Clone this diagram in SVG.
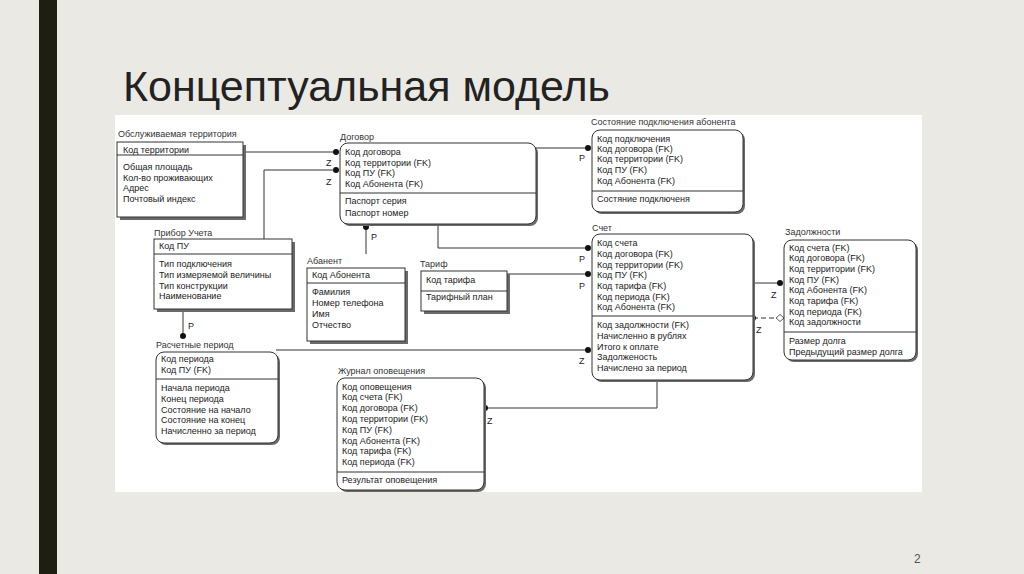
<svg xmlns="http://www.w3.org/2000/svg" width="1024" height="574" viewBox="0 0 1024 574">
<style>
.bg{fill:#ebe9e3}
.panel{fill:#ffffff}
.box{fill:#ffffff;stroke:#333;stroke-width:1}
.sh{fill:#6a6a6a}
.sep{stroke:#333;stroke-width:1}
.ttl{font-family:"Liberation Sans",Arial,sans-serif;font-size:9px;fill:#333}
.a{font-family:"Liberation Sans",Arial,sans-serif;font-size:9px;fill:#1a1a1a}
.lbl{font-family:"Liberation Sans",Arial,sans-serif;font-size:9px;fill:#222}
.ln{fill:none;stroke:#333;stroke-width:1}
.dash{fill:none;stroke:#333;stroke-width:1;stroke-dasharray:5,3}
.dot{fill:#111}
</style>
<rect class="bg" x="0" y="0" width="1024" height="574"/>
<rect x="39" y="0" width="18" height="574" fill="#1e1e12"/>
<text x="123" y="101" font-family="'Liberation Sans',Arial,sans-serif" font-size="42" fill="#222" textLength="487" lengthAdjust="spacingAndGlyphs">Концептуальная модель</text>
<rect class="panel" x="115" y="115" width="807" height="377"/>
<text x="914" y="563" font-family="'Liberation Sans',Arial,sans-serif" font-size="12" fill="#555">2</text>

<g id="connectors">
<polyline class="ln" points="243,152 336,152"/><circle class="dot" cx="336" cy="152" r="3"/>
<text class="lbl" x="326" y="166">Z</text>
<polyline class="ln" points="264,239 264,170 336,170"/><circle class="dot" cx="336" cy="170" r="3"/>
<text class="lbl" x="326" y="185">Z</text>
<polyline class="ln" points="536,148 588,148"/><circle class="dot" cx="588" cy="148" r="3"/>
<text class="lbl" x="579" y="161">P</text>
<polyline class="ln" points="366,227 366,254"/><circle class="dot" cx="366" cy="227" r="3"/>
<text class="lbl" x="371" y="240">P</text>
<polyline class="ln" points="438,224 438,248 588,248"/><circle class="dot" cx="588" cy="248" r="3"/>
<text class="lbl" x="579" y="262">P</text>
<polyline class="ln" points="507,274 588,274"/><circle class="dot" cx="588" cy="274" r="3"/>
<text class="lbl" x="579" y="289">P</text>
<polyline class="ln" points="183,309 183,336"/><circle class="dot" cx="183" cy="336" r="3"/>
<text class="lbl" x="188" y="329">P</text>
<polyline class="ln" points="276,350 588,350"/><circle class="dot" cx="588" cy="350" r="3"/>
<text class="lbl" x="579" y="364">Z</text>
<polyline class="ln" points="657,380 657,408 485,408"/><circle class="dot" cx="485" cy="408" r="3"/>
<text class="lbl" x="487" y="424">Z</text>
<polyline class="ln" points="753,283 780,283"/><circle class="dot" cx="780" cy="283" r="3"/>
<text class="lbl" x="771" y="298">Z</text>
<polyline class="dash" points="753,318 776,318"/><circle class="dot" cx="753" cy="318" r="3"/>
<polygon points="776,318 780,314.5 784,318 780,321.5" fill="#fff" stroke="#333" stroke-width="0.8"/>
<text class="lbl" x="756" y="333">Z</text>
</g>

<g id="territory">
<rect class="sh" x="120" y="145" width="126" height="75"/>
<rect class="box" x="117" y="142" width="126" height="75"/>
<line class="sep" x1="117" y1="155" x2="243" y2="155"/>
<text class="ttl" x="118" y="137">Обслуживаемая территория</text>
<text class="a" x="123" y="153">Код территории</text>
<text class="a" x="123" y="170">Общая площадь</text>
<text class="a" x="123" y="181">Кол-во проживающих</text>
<text class="a" x="123" y="191">Адрес</text>
<text class="a" x="123" y="202">Почтовый индекс</text>
</g>

<g id="dogovor">
<rect class="sh" x="342" y="145" width="196" height="81" rx="8"/>
<rect class="box" x="340" y="143" width="196" height="81" rx="8"/>
<line class="sep" x1="340" y1="193" x2="536" y2="193"/>
<text class="ttl" x="340" y="140">Договор</text>
<text class="a" x="345" y="155">Код договора</text>
<text class="a" x="345" y="166">Код территории (FK)</text>
<text class="a" x="345" y="176">Код ПУ (FK)</text>
<text class="a" x="345" y="187">Код Абонента (FK)</text>
<text class="a" x="345" y="204">Паспорт серия</text>
<text class="a" x="345" y="216">Паспорт номер</text>
</g>

<g id="sostoyanie">
<rect class="sh" x="594" y="132" width="151" height="82" rx="8"/>
<rect class="box" x="592" y="130" width="151" height="82" rx="8"/>
<line class="sep" x1="592" y1="191" x2="743" y2="191"/>
<text class="ttl" x="591" y="125">Состояние подключения абонента</text>
<text class="a" x="597" y="142">Код подключения</text>
<text class="a" x="597" y="152">Код договора (FK)</text>
<text class="a" x="597" y="162">Код территории (FK)</text>
<text class="a" x="597" y="173">Код ПУ (FK)</text>
<text class="a" x="597" y="184">Код Абонента (FK)</text>
<text class="a" x="597" y="202">Состяние подключеня</text>
</g>

<g id="pribor">
<rect class="sh" x="157" y="242" width="138" height="70"/>
<rect class="box" x="154" y="239" width="138" height="70"/>
<line class="sep" x1="154" y1="254" x2="292" y2="254"/>
<text class="ttl" x="154" y="236">Прибор Учета</text>
<text class="a" x="159" y="249">Код ПУ</text>
<text class="a" x="159" y="267">Тип подключения</text>
<text class="a" x="159" y="278">Тип измеряемой величины</text>
<text class="a" x="159" y="289">Тип конструкции</text>
<text class="a" x="159" y="299">Наименование</text>
</g>

<g id="abonent">
<rect class="sh" x="310" y="271" width="98" height="73"/>
<rect class="box" x="307" y="268" width="98" height="73"/>
<line class="sep" x1="307" y1="283" x2="405" y2="283"/>
<text class="ttl" x="307" y="264">Абанент</text>
<text class="a" x="312" y="278">Код Абонента</text>
<text class="a" x="312" y="295">Фамилия</text>
<text class="a" x="312" y="306">Номер телефона</text>
<text class="a" x="312" y="317">Имя</text>
<text class="a" x="312" y="328">Отчество</text>
</g>

<g id="tarif">
<rect class="sh" x="424" y="274" width="86" height="40"/>
<rect class="box" x="421" y="271" width="86" height="40"/>
<line class="sep" x1="421" y1="291" x2="507" y2="291"/>
<text class="ttl" x="420" y="267">Тариф</text>
<text class="a" x="426" y="283">Код тарифа</text>
<text class="a" x="426" y="300">Тарифный план</text>
</g>

<g id="schet">
<rect class="sh" x="594" y="236" width="161" height="146" rx="8"/>
<rect class="box" x="592" y="234" width="161" height="146" rx="8"/>
<line class="sep" x1="592" y1="316" x2="753" y2="316"/>
<text class="ttl" x="592" y="231">Счет</text>
<text class="a" x="597" y="246">Код счета</text>
<text class="a" x="597" y="257">Код договора (FK)</text>
<text class="a" x="597" y="268">Код территории (FK)</text>
<text class="a" x="597" y="278">Код ПУ (FK)</text>
<text class="a" x="597" y="289">Код тарифа (FK)</text>
<text class="a" x="597" y="300">Код периода (FK)</text>
<text class="a" x="597" y="310">Код Абонента (FK)</text>
<text class="a" x="597" y="328">Код задолжности (FK)</text>
<text class="a" x="597" y="339">Начисленно в рублях</text>
<text class="a" x="597" y="350">Итого к оплате</text>
<text class="a" x="597" y="360">Задолженость</text>
<text class="a" x="597" y="371">Начислено за период</text>
</g>

<g id="zadolzhnosti">
<rect class="sh" x="786" y="242" width="132" height="120" rx="8"/>
<rect class="box" x="784" y="240" width="132" height="120" rx="8"/>
<line class="sep" x1="784" y1="332" x2="916" y2="332"/>
<text class="ttl" x="785" y="235">Задолжности</text>
<text class="a" x="789" y="251">Код счета (FK)</text>
<text class="a" x="789" y="261">Код договора (FK)</text>
<text class="a" x="789" y="272">Код территории (FK)</text>
<text class="a" x="789" y="283">Код ПУ (FK)</text>
<text class="a" x="789" y="293">Код Абонента (FK)</text>
<text class="a" x="789" y="304">Код тарифа (FK)</text>
<text class="a" x="789" y="315">Код периода (FK)</text>
<text class="a" x="789" y="325">Код задолжности</text>
<text class="a" x="789" y="344">Размер долга</text>
<text class="a" x="789" y="355">Предыдущий размер долга</text>
</g>

<g id="period">
<rect class="sh" x="158" y="354" width="122" height="91" rx="8"/>
<rect class="box" x="156" y="352" width="122" height="91" rx="8"/>
<line class="sep" x1="156" y1="379" x2="278" y2="379"/>
<text class="ttl" x="156" y="348">Расчетные период</text>
<text class="a" x="161" y="362">Код периода</text>
<text class="a" x="161" y="373">Код ПУ (FK)</text>
<text class="a" x="161" y="391">Начала периода</text>
<text class="a" x="161" y="402">Конец периода</text>
<text class="a" x="161" y="413">Состояние на начало</text>
<text class="a" x="161" y="423">Состояние на конец</text>
<text class="a" x="161" y="434">Начисленно за период</text>
</g>

<g id="zhurnal">
<rect class="sh" x="339" y="380" width="147" height="112" rx="8"/>
<rect class="box" x="337" y="378" width="147" height="112" rx="8"/>
<line class="sep" x1="337" y1="472" x2="484" y2="472"/>
<text class="ttl" x="338" y="374">Журнал оповещения</text>
<text class="a" x="342" y="390">Код оповещения</text>
<text class="a" x="342" y="400">Код счета (FK)</text>
<text class="a" x="342" y="411">Код договора (FK)</text>
<text class="a" x="342" y="422">Код территории (FK)</text>
<text class="a" x="342" y="433">Код ПУ (FK)</text>
<text class="a" x="342" y="444">Код Абонента (FK)</text>
<text class="a" x="342" y="454">Код тарифа (FK)</text>
<text class="a" x="342" y="465">Код периода (FK)</text>
<text class="a" x="342" y="483">Результат оповещения</text>
</g>
</svg>
